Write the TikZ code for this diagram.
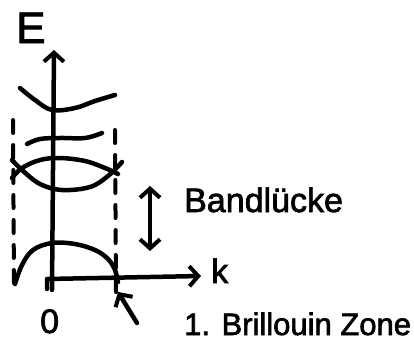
\documentclass[tikz,border=0pt]{standalone}
\usepackage{fontspec}
\setmainfont{Liberation Sans}
\newfontfamily\hand{Liberation Sans}[FakeBold=2]
\usetikzlibrary{arrows.meta}
\tikzset{
  pen/.style={line width=4.5pt, line cap=round, line join=round},
  band/.style={pen},
  zonedash/.style={line width=4pt, line cap=round, dash pattern=on 13pt off 12pt},
  barb/.style={-{Straight Barb[length=9pt,width=20pt,line width=4pt]}},
  dbarb/.style={{Straight Barb[length=9pt,width=20pt,line width=4pt]}-{Straight Barb[length=9pt,width=20pt,line width=4pt]}},
  lab/.style={inner sep=0pt, anchor=base west}
}
\begin{document}
\begin{tikzpicture}[x=1pt,y=-1pt]
\useasboundingbox[fill=white] (0,0) rectangle (414,356);
% labels
\node[lab, font=\hand\fontsize{44}{44}\selectfont] (E) at (16,43) {E};
\node[lab, font=\hand\fontsize{34}{34}\selectfont] (k) at (211,283) {k};
\node[lab, font=\hand\fontsize{34}{34}\selectfont] (zero) at (40,333) {0};
\node[lab, font=\hand\fontsize{34}{34}\selectfont] (gap) at (184,212) {Bandlücke};
\node[lab, font=\hand\fontsize{31}{31}\selectfont] (bz) at (184,335) {1. Brillouin Zone};
% axes
\coordinate (ybot) at (52,290);
\coordinate (ytop) at (54,50);
\coordinate (xleft) at (47,279);
\coordinate (xright) at (201,276);
\draw[pen, barb] (ybot) -- (ytop);
\draw[pen, barb] (47,289) -- (xleft) -- (xright);
% bands
\draw[band] plot[smooth, tension=0.6] coordinates {(20,88) (35,100) (52,110) (75,108) (95,101) (115,95)};
\draw[band] plot[smooth, tension=0.6] coordinates {(27,144) (40,139) (60,138) (85,138) (102,133)};
\draw[band] plot[smooth, tension=0.6] coordinates {(12,178) (22,168) (40,160) (60,158) (85,161) (105,168) (118,174)};
\draw[band] plot[smooth, tension=0.6] coordinates {(12,160) (22,170) (40,184) (62,190) (90,187) (108,176) (122,162)};
\draw[band] plot[smooth, tension=0.6] coordinates {(15,284) (22,265) (33,250) (52,243) (75,244) (95,250) (108,259) (115,270) (118,282)};
% zone boundaries
\coordinate (lzt) at (13,120);
\coordinate (lzb) at (14,290);
\coordinate (rzt) at (115,130);
\coordinate (rzb) at (116,292);
\draw[zonedash] (lzt) -- (lzb);
\draw[zonedash] (rzt) -- (rzb);
% band gap arrow
\coordinate (gtop) at (150,186);
\coordinate (gbot) at (150,251);
\draw[pen, dbarb] (gtop) -- (gbot);
% Brillouin arrow
\coordinate (btail) at (137,323);
\coordinate (btip) at (118,292);
\draw[pen, barb] (btail) -- (btip);
\end{tikzpicture}
\end{document}
